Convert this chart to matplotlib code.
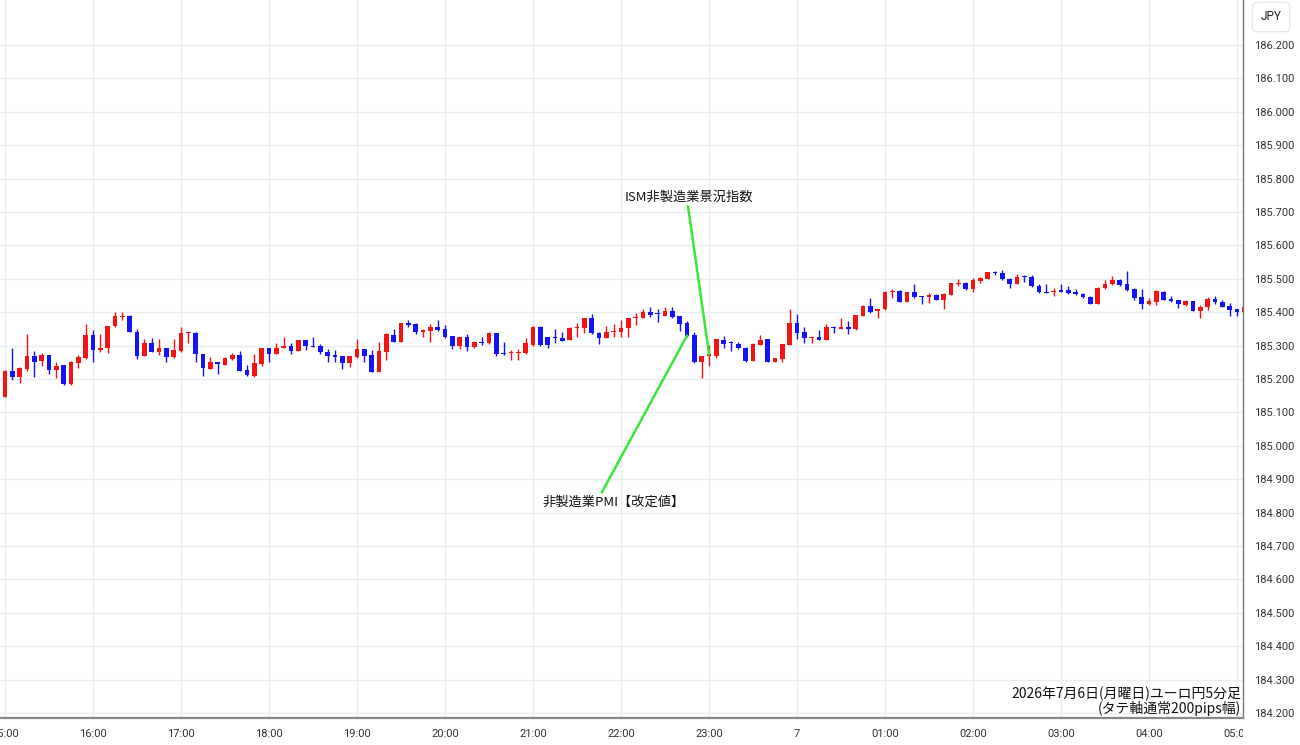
import matplotlib
matplotlib.use('Agg')
import matplotlib.pyplot as plt
from matplotlib.transforms import Bbox, TransformedBbox
import numpy as np

# ---------------- data (EUR/JPY 5-minute candles, 15:00 -> 05:05) ----------------
hour_labels = ['15:00', '16:00', '17:00', '18:00', '19:00', '20:00', '21:00', '22:00',
               '23:00', '7', '01:00', '02:00', '03:00', '04:00', '05:00']
candles_per_hour = 12

opens = [
    185.147, 185.224, 185.207, 185.230, 185.269, 185.254, 185.272, 185.227, 185.241, 185.185,
    185.247, 185.262, 185.332, 185.287, 185.292, 185.359, 185.387, 185.390, 185.342, 185.270,
    185.309, 185.282, 185.292, 185.265, 185.284, 185.337, 185.339, 185.274, 185.230, 185.250,
    185.242, 185.260, 185.272, 185.227, 185.209, 185.245, 185.292, 185.275, 185.294, 185.300,
    185.285, 185.317, 185.300, 185.300, 185.282, 185.272, 185.269, 185.247, 185.267, 185.289,
    185.272, 185.222, 185.282, 185.332, 185.312, 185.367, 185.364, 185.342, 185.344, 185.357,
    185.349, 185.329, 185.299, 185.325, 185.295, 185.312, 185.307, 185.337, 185.279, 185.277,
    185.279, 185.277, 185.302, 185.357, 185.325, 185.327, 185.324, 185.317, 185.354, 185.354,
    185.382, 185.337, 185.324, 185.340, 185.340, 185.354, 185.382, 185.384, 185.402, 185.397,
    185.389, 185.405, 185.389, 185.367, 185.332, 185.252, 185.270, 185.269, 185.317, 185.310,
    185.305, 185.294, 185.255, 185.302, 185.319, 185.252, 185.260, 185.302, 185.367, 185.342,
    185.322, 185.325, 185.317, 185.355, 185.350, 185.355, 185.349, 185.390, 185.420, 185.405,
    185.409, 185.460, 185.463, 185.432, 185.459, 185.448, 185.444, 185.450, 185.437, 185.452,
    185.484, 185.488, 185.468, 185.493, 185.499, 185.520, 185.518, 185.500, 185.484, 185.508,
    185.506, 185.478, 185.461, 185.459, 185.466, 185.466, 185.461, 185.453, 185.446, 185.426,
    185.471, 185.483, 185.496, 185.484, 185.469, 185.444, 185.424, 185.431, 185.461, 185.439,
    185.436, 185.422, 185.433, 185.404, 185.415, 185.440, 185.432, 185.419, 185.409, 185.402,
]

highs = [
    185.227, 185.292, 185.237, 185.335, 185.284, 185.279, 185.273, 185.252, 185.243, 185.254,
    185.272, 185.364, 185.347, 185.335, 185.360, 185.400, 185.402, 185.392, 185.349, 185.319,
    185.322, 185.319, 185.293, 185.320, 185.357, 185.340, 185.340, 185.275, 185.265, 185.252,
    185.265, 185.279, 185.284, 185.242, 185.275, 185.293, 185.294, 185.309, 185.327, 185.307,
    185.318, 185.318, 185.327, 185.304, 185.289, 185.287, 185.270, 185.270, 185.320, 185.290,
    185.287, 185.312, 185.337, 185.349, 185.369, 185.377, 185.367, 185.349, 185.365, 185.377,
    185.362, 185.330, 185.326, 185.335, 185.315, 185.327, 185.342, 185.338, 185.312, 185.287,
    185.289, 185.322, 185.358, 185.358, 185.326, 185.349, 185.340, 185.355, 185.369, 185.383,
    185.394, 185.340, 185.359, 185.364, 185.377, 185.383, 185.397, 185.410, 185.415, 185.409,
    185.417, 185.417, 185.390, 185.374, 185.342, 185.270, 185.302, 185.320, 185.329, 185.315,
    185.310, 185.295, 185.307, 185.332, 185.320, 185.263, 185.305, 185.409, 185.394, 185.357,
    185.326, 185.347, 185.365, 185.360, 185.382, 185.374, 185.393, 185.421, 185.442, 185.411,
    185.462, 185.468, 185.466, 185.460, 185.483, 185.449, 185.456, 185.454, 185.456, 185.487,
    185.498, 185.491, 185.503, 185.504, 185.521, 185.524, 185.526, 185.501, 185.513, 185.511,
    185.511, 185.484, 185.483, 185.473, 185.483, 185.478, 185.468, 185.458, 185.447, 185.474,
    185.496, 185.508, 185.498, 185.523, 185.473, 185.468, 185.442, 185.466, 185.463, 185.448,
    185.437, 185.436, 185.434, 185.422, 185.445, 185.449, 185.436, 185.427, 185.410, 185.418,
]

lows = [
    185.145, 185.197, 185.189, 185.225, 185.207, 185.239, 185.215, 185.202, 185.183, 185.182,
    185.234, 185.259, 185.252, 185.282, 185.279, 185.355, 185.377, 185.340, 185.260, 185.268,
    185.280, 185.272, 185.252, 185.264, 185.280, 185.309, 185.252, 185.209, 185.229, 185.214,
    185.241, 185.257, 185.224, 185.210, 185.207, 185.240, 185.250, 185.274, 185.293, 185.275,
    185.284, 185.287, 185.296, 185.275, 185.252, 185.252, 185.230, 185.237, 185.262, 185.250,
    185.221, 185.221, 185.257, 185.311, 185.311, 185.357, 185.335, 185.325, 185.312, 185.345,
    185.324, 185.289, 185.289, 185.284, 185.292, 185.302, 185.305, 185.269, 185.272, 185.257,
    185.257, 185.276, 185.300, 185.300, 185.292, 185.307, 185.314, 185.316, 185.327, 185.339,
    185.335, 185.304, 185.322, 185.325, 185.327, 185.327, 185.362, 185.382, 185.385, 185.370,
    185.388, 185.382, 185.344, 185.327, 185.247, 185.202, 185.239, 185.264, 185.294, 185.284,
    185.289, 185.252, 185.254, 185.301, 185.251, 185.251, 185.252, 185.301, 185.319, 185.309,
    185.307, 185.316, 185.316, 185.339, 185.349, 185.334, 185.348, 185.389, 185.397, 185.384,
    185.408, 185.442, 185.431, 185.431, 185.443, 185.424, 185.429, 185.436, 185.409, 185.450,
    185.478, 185.467, 185.461, 185.486, 185.498, 185.511, 185.496, 185.471, 185.483, 185.491,
    185.476, 185.458, 185.456, 185.448, 185.459, 185.455, 185.451, 185.443, 185.425, 185.425,
    185.470, 185.481, 185.479, 185.463, 185.436, 185.409, 185.423, 185.422, 185.435, 185.431,
    185.412, 185.420, 185.403, 185.384, 185.407, 185.425, 185.415, 185.390, 185.390, 185.401,
]

closes = [
    185.225, 185.207, 185.232, 185.269, 185.252, 185.272, 185.227, 185.240, 185.185, 185.250,
    185.267, 185.332, 185.287, 185.294, 185.360, 185.389, 185.390, 185.342, 185.270, 185.309,
    185.282, 185.292, 185.265, 185.287, 185.337, 185.339, 185.274, 185.232, 185.250, 185.244,
    185.264, 185.272, 185.225, 185.211, 185.247, 185.292, 185.275, 185.294, 185.300, 185.285,
    185.317, 185.300, 185.297, 185.282, 185.269, 185.267, 185.247, 185.269, 185.289, 185.270,
    185.222, 185.284, 185.334, 185.312, 185.367, 185.362, 185.340, 185.347, 185.357, 185.347,
    185.327, 185.299, 185.325, 185.297, 185.312, 185.307, 185.337, 185.275, 185.274, 185.280,
    185.282, 185.307, 185.357, 185.302, 185.302, 185.322, 185.315, 185.354, 185.357, 185.382,
    185.337, 185.324, 185.340, 185.344, 185.354, 185.382, 185.387, 185.402, 185.392, 185.394,
    185.405, 185.387, 185.364, 185.330, 185.250, 185.269, 185.274, 185.319, 185.305, 185.307,
    185.292, 185.255, 185.305, 185.317, 185.252, 185.262, 185.304, 185.367, 185.339, 185.324,
    185.325, 185.317, 185.355, 185.352, 185.355, 185.349, 185.392, 185.420, 185.402, 185.410,
    185.461, 185.463, 185.432, 185.459, 185.446, 185.444, 185.452, 185.437, 185.455, 185.486,
    185.488, 185.468, 185.496, 185.501, 185.519, 185.516, 185.499, 185.484, 185.506, 185.504,
    185.478, 185.459, 185.458, 185.464, 185.461, 185.458, 185.453, 185.446, 185.426, 185.473,
    185.484, 185.496, 185.481, 185.466, 185.443, 185.424, 185.434, 185.463, 185.436, 185.434,
    185.424, 185.434, 185.404, 185.417, 185.440, 185.430, 185.417, 185.407, 185.402, 185.417,
]

y_ticks = [round(184.2 + 0.1 * k, 1) for k in range(21)]

pmi_candle = 93   # 22:45
ism_candle = 96   # 23:00
pmi_label = '非製造業PMI【改定値】'
ism_label = 'ISM非製造業景況指数'
caption1 = '2026年7月6日(月曜日)ユーロ円5分足'
caption2 = '(タテ軸通常200pips幅)'
currency = 'JPY'

# ---------------- drawing ----------------
plt.rcParams['font.family'] = ['Roboto', 'Noto Sans CJK JP', 'DejaVu Sans']
JP = ['Noto Sans CJK JP', 'DejaVu Sans']

W, H = 1300, 745
fig = plt.figure(figsize=(W / 100, H / 100), dpi=100)
ax_left, ax_right, ax_bottom = 0, 1243, 718
ax = fig.add_axes([ax_left / W, 1 - ax_bottom / H, (ax_right - ax_left) / W, ax_bottom / H])

o = np.array(opens); h = np.array(highs); l = np.array(lows); c = np.array(closes)
idx = np.arange(len(o))
up_col, dn_col = '#f01414', '#1414f0'
cols = np.where(c >= o, up_col, dn_col)

ax.vlines(idx, l, h, colors=cols, linewidth=1.0, zorder=3)
body_bottom = np.minimum(o, c)
body_h = np.maximum(np.abs(c - o), 0.003)
ax.bar(idx, body_h, bottom=body_bottom, width=0.64, color=cols, linewidth=0, zorder=4)

ax.set_xlim(-0.68, 168.8)
ax.set_ylim(184.185, 186.3347)

xt = [k * candles_per_hour for k in range(len(hour_labels))]
ax.set_xticks(xt)
ax.set_xticklabels(hour_labels)
ax.set_yticks(y_ticks)
ax.set_yticklabels([f'{v:.3f}' for v in y_ticks])
ax.yaxis.tick_right()
ax.tick_params(axis='both', length=0, labelsize=8, colors='#333333')
ax.tick_params(axis='x', pad=8)
ax.tick_params(axis='y', pad=8)

ax.grid(True, color='#e8edf3', linewidth=1.0)
ax.set_axisbelow(True)
for s in ['top', 'left']:
    ax.spines[s].set_visible(False)
ax.spines['right'].set_color('#777777')
ax.spines['right'].set_linewidth(1.0)
ax.spines['bottom'].set_color('#888888')
ax.spines['bottom'].set_linewidth(1.6)

green = '#3ae63a'
ax.annotate(ism_label, xy=(ism_candle, closes[ism_candle]), xytext=(93.3, 185.745),
            textcoords='data', ha='center', va='center', fontsize=9.5, family=JP,
            color='#111111', zorder=6,
            arrowprops=dict(arrowstyle='-', color=green, lw=1.8, shrinkA=0, shrinkB=0,
                            relpos=(0.48, 0.5)))
ax.annotate(pmi_label, xy=(pmi_candle, closes[pmi_candle]), xytext=(83.0, 184.832),
            textcoords='data', ha='center', va='center', fontsize=9.5, family=JP,
            color='#111111', zorder=6,
            arrowprops=dict(arrowstyle='-', color=green, lw=1.8, shrinkA=0, shrinkB=0,
                            relpos=(0.38, 0.5)))

fig.text(1241 / W, 1 - 694 / H, caption1, ha='right', va='center', fontsize=10, family=JP,
         color='#111111')
fig.text(1241 / W, 1 - 709 / H, caption2, ha='right', va='center', fontsize=10, family=JP,
         color='#111111')

fig.text(1271 / W, 1 - 17 / H, currency, ha='center', va='center', fontsize=8.5, color='#222222',
         bbox=dict(boxstyle='round,pad=0.7,rounding_size=0.45', fc='white', ec='#e3e3e3', lw=0.8))

# x tick labels are clipped at the price scale (as in the reference, "05:0")
fig.canvas.draw()
clipbox = TransformedBbox(Bbox([[0, 0], [ax_right / W, 1 - ax_bottom / H]]), fig.transFigure)
for lab in ax.get_xticklabels():
    lab.set_clip_box(clipbox)
    lab.set_clip_on(True)

fig.savefig('out.png', dpi=100)
